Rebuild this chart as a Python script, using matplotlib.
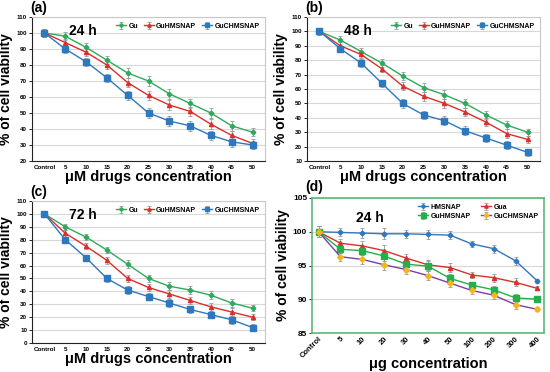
import matplotlib
matplotlib.use("Agg")
import matplotlib.pyplot as plt

plt.rcParams['font.family'] = ['Liberation Sans', 'DejaVu Sans']

xlabels_um = ["Control", "5", "10", "15", "20", "25", "30", "35", "40", "45", "50"]
xlabels_ug = ["Control", "5", "10", "20", "30", "40", "50", "100", "200", "300", "400"]

# (a) 24 h
a_gu = [100, 98, 91, 83, 75, 70, 62, 56, 50, 42, 38]
a_guh = [100, 94, 88, 80, 69, 61, 55, 51, 43, 36, 31]
a_guc = [100, 90, 82, 72, 61, 50, 45, 42, 36, 32, 30]
# (b) 48 h
b_gu = [100, 94, 86, 78, 69, 61, 56, 50, 42, 35, 30]
b_guh = [100, 90, 84, 74, 62, 55, 50, 44, 37, 29, 25]
b_guc = [100, 88, 78, 64, 50, 42, 38, 31, 26, 21, 16]
# (c) 72 h
c_gu = [100, 90, 82, 72, 61, 50, 44, 41, 37, 31, 27]
c_guh = [100, 85, 75, 64, 50, 43, 38, 33, 28, 24, 20]
c_guc = [100, 80, 66, 50, 41, 36, 31, 26, 22, 18, 12]
err_abc = [2.5, 2.5, 2.5, 2.5, 3, 3, 3, 3, 3, 3, 2.5]
# (d) 24 h
d_hms = [100, 99.9, 99.8, 99.7, 99.7, 99.6, 99.5, 98.2, 97.5, 95.7, 92.7]
d_gua = [100, 98.3, 97.9, 97.2, 96.1, 95.1, 94.7, 93.6, 93.2, 92.5, 91.6]
d_guh = [100, 97.4, 97.2, 96.4, 95.2, 94.9, 93.1, 92.1, 91.4, 90.2, 90.0]
d_guc = [100, 96.3, 95.9, 95.1, 94.4, 93.5, 92.4, 91.3, 90.6, 89.2, 88.5]
err_d = [0.8, 0.6, 0.7, 0.8, 0.6, 0.7, 0.6, 0.5, 0.6, 0.6, 0.3]

GREEN = "#2eaa5c"
RED = "#d9302c"
BLUE = "#2e78c0"
PURPLE = "#7a3fa8"
YELLOW = "#f5b520"
DGREEN = "#22b04a"

W, H = 550, 372
fig = plt.figure(figsize=(5.5, 3.72), dpi=100)

def add_ax(x0, y0, x1, y1):
    return fig.add_axes([x0 / W, 1 - y1 / H, (x1 - x0) / W, (y1 - y0) / H])

def fig_text(px, py, s, **kw):
    fig.text(px / W, 1 - py / H, s, **kw)

def panel_abc(ax, hours, gu, guh, guc, ylo):
    x = list(range(len(xlabels_um)))
    ek = dict(ecolor="#999999", elinewidth=0.6, capsize=1.2, capthick=0.6)
    ax.errorbar(x, gu, yerr=err_abc, color=GREEN, marker="P", ms=3, lw=1.0, label="Gu", **ek)
    ax.errorbar(x, guh, yerr=err_abc, color=RED, marker="^", ms=3, lw=1.0, label="GuHMSNAP", **ek)
    ax.errorbar(x, guc, yerr=err_abc, color=BLUE, marker="s", ms=4, lw=1.0, label="GuCHMSNAP", **ek)
    ax.set_xlim(-0.6, 10.6)
    ax.set_ylim(ylo, 110)
    ax.set_yticks(range(ylo, 111, 10))
    ax.set_xticks(x)
    ax.set_xticklabels(xlabels_um, fontsize=4.5, fontweight="bold")
    ax.tick_params(axis="y", labelsize=4.5, length=2, width=0.6, pad=1.5)
    ax.tick_params(axis="x", length=0, pad=3)
    for t in ax.get_yticklabels():
        t.set_fontweight("bold")
    ax.grid(axis="y", color="#d8d8d8", lw=0.8)
    ax.set_axisbelow(True)
    for s in ("top", "right"):
        ax.spines[s].set_color("#c8c8c8")
        ax.spines[s].set_linewidth(0.8)
    for s in ("left", "bottom"):
        ax.spines[s].set_color("#222222")
        ax.spines[s].set_linewidth(0.8)
    ax.set_ylabel("% of cell viability", fontsize=10, fontweight="bold", labelpad=2.5)
    ax.set_xlabel("\u03bcM drugs concentration", fontsize=10.5, fontweight="bold", labelpad=0)
    ax.text(0.16, 0.9, hours, transform=ax.transAxes, fontsize=10, fontweight="bold", va="center")
    ax.legend(loc="upper right", ncol=3, frameon=False, handlelength=1.5, markerscale=0.8,
              columnspacing=0.8, handletextpad=0.3, borderaxespad=0.4,
              prop={"weight": "bold", "size": 5})

ax_a = add_ax(32, 17, 265, 161)
panel_abc(ax_a, "24 h", a_gu, a_guh, a_guc, 20)
ax_b = add_ax(307, 17, 540, 161)
panel_abc(ax_b, "48 h", b_gu, b_guh, b_guc, 10)
ax_c = add_ax(32, 201, 265, 343)
panel_abc(ax_c, "72 h", c_gu, c_guh, c_guc, 0)

# (d)
ax = add_ax(312, 198, 544, 333)
x = list(range(len(xlabels_ug)))
ek = dict(ecolor="#999999", elinewidth=0.6, capsize=1.2, capthick=0.6)
h1 = ax.errorbar(x, d_hms, yerr=err_d, color=BLUE, marker="D", ms=2.5, lw=1.0, label="HMSNAP", **ek)
h2 = ax.errorbar(x, d_gua, yerr=err_d, color=RED, marker="^", ms=3, lw=1.0, label="Gua", **ek)
h3 = ax.errorbar(x, d_guh, yerr=err_d, color=DGREEN, marker="s", ms=4.5, lw=1.0, label="GuHMSNAP", **ek)
h4 = ax.errorbar(x, d_guc, yerr=err_d, color=PURPLE, marker="D", ms=3, mfc=YELLOW, mec=YELLOW,
                 lw=1.0, label="GuCHMSNAP", **ek)
ax.set_xlim(-0.3, 10.3)
ax.set_ylim(85, 105)
ax.set_yticks([85, 90, 95, 100, 105])
ax.set_xticks(x)
ax.set_xticklabels(xlabels_ug, fontsize=5.5, fontweight="bold", rotation=45,
                   ha="right", va="top", rotation_mode="anchor")
ax.tick_params(axis="x", length=0, pad=2)
ax.tick_params(axis="y", labelsize=6, length=2, width=0.6, pad=1.5)
for t in ax.get_yticklabels():
    t.set_fontweight("bold")
ax.grid(axis="y", color="#d8d8d8", lw=0.8)
ax.set_axisbelow(True)
for s in ax.spines.values():
    s.set_color("#5cb87a")
    s.set_linewidth(1.2)
ax.set_ylabel("% of cell viability", fontsize=10, fontweight="bold", labelpad=2)
ax.set_xlabel("\u03bcg concentration", fontsize=10.5, fontweight="bold", labelpad=-2)
ax.text(0.19, 0.85, "24 h", transform=ax.transAxes, fontsize=10, fontweight="bold", va="center")
ax.legend([h1, h3, h2, h4], ["HMSNAP", "GuHMSNAP", "Gua", "GuCHMSNAP"],
          loc="upper right", ncol=2, frameon=False, handlelength=1.5, markerscale=0.8,
          columnspacing=1.5, handletextpad=0.3, borderaxespad=0.4, labelspacing=0.3,
          prop={"weight": "bold", "size": 5})

kw = dict(fontsize=10, fontweight="bold", ha="left", va="top")
fig_text(30, 1, "(a)", **kw)
fig_text(305, 1, "(b)", **kw)
fig_text(30, 185, "(c)", **kw)
fig_text(305, 180, "(d)", **kw)

fig.savefig("out.png", dpi=100)
